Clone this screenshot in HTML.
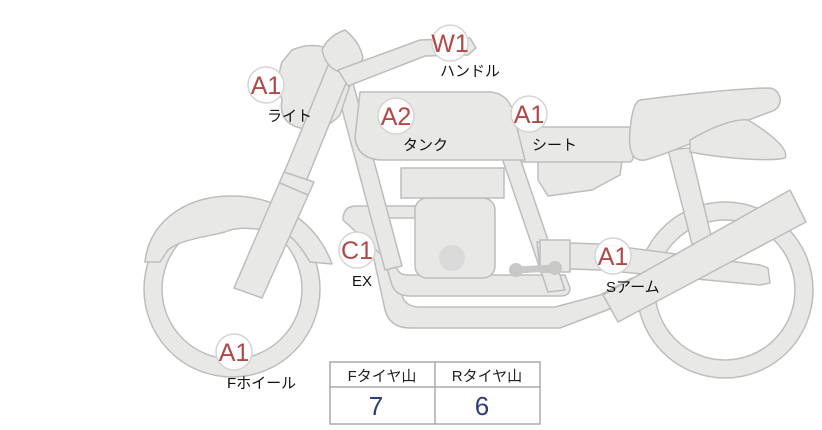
<!DOCTYPE html>
<html><head><meta charset="utf-8"><style>
body{margin:0;background:#fff;width:822px;height:425px;overflow:hidden;font-family:"Liberation Sans","Noto Sans CJK JP",sans-serif}
</style></head><body>
<svg width="822" height="425" viewBox="0 0 822 425" xmlns="http://www.w3.org/2000/svg" font-family="Liberation Sans, Noto Sans CJK JP, sans-serif">
<g fill="#e8e8e6" stroke="#bdbdbd" stroke-width="1.5" stroke-linejoin="round">
<!-- rear wheel -->
<circle cx="725" cy="290" r="88"/>
<circle cx="725" cy="290" r="70" fill="#fff"/>
<polygon points="668,150 690,148 712,240 692,244"/>
<!-- front wheel -->
<circle cx="232" cy="289" r="88"/>
<circle cx="232" cy="289" r="70" fill="#fff"/>
<path d="M145,262 C150,215 195,195 232,196 C280,196 318,225 332,264 L310,262 C300,245 290,232 275,230 C255,230 240,225 225,232 C200,238 180,240 168,250 L160,262 Z"/>
<!-- under seat cover -->
<polygon points="538,160 622,160 620,175 592,190 548,196 538,180"/>
<!-- seat -->
<rect x="518" y="127" width="115" height="35" rx="4"/>
<path d="M640,100 C700,92 750,88 770,88 C782,90 785,108 770,112 C720,130 680,150 645,160 C632,162 628,150 630,130 C632,110 635,102 640,100 Z"/>
<path d="M690,140 C710,128 735,118 748,120 C765,130 790,148 785,158 C770,162 720,158 690,152 Z"/>
<!-- lower exhaust pipe -->
<path d="M365,218 L385,310 Q390,328 410,328 L560,328 L620,305 L640,292 L632,278 L600,295 L555,307 L420,307 Q405,307 402,295 L385,218 Z"/>
<!-- inner exhaust pipe -->
<path d="M343,220 Q343,206 356,206 L420,206 L420,218 L372,218 L392,285 Q396,296 410,296 L560,296 Q570,296 570,288 L565,275 L408,275 Q400,275 398,270 Z" />
<!-- frame downtube -->
<polygon points="332,72 349,68 402,266 385,270"/>
<polygon points="502,158 520,158 565,290 548,292"/>
<!-- swingarm -->
<polygon points="537,242 600,244 760,265 768,268 770,283 760,285 600,270 540,268"/>
<!-- engine -->
<rect x="415" y="198" width="80" height="80" rx="12"/>
<rect x="401" y="168" width="103" height="30"/>
<rect x="540" y="240" width="30" height="32"/>
<polygon points="603,295 790,190 806,222 618,322"/>
<!-- tank -->
<path d="M360,92 L488,92 Q505,92 512,108 L525,160 L383,160 Q358,160 355,138 Z"/>
<!-- headlight -->
<path d="M292,50 Q315,40 335,52 Q352,62 350,85 L340,115 Q325,132 300,128 Q278,122 282,100 Q276,80 282,62 Z"/>
<!-- upper fork -->
<polygon points="331,58 353,66 283,238 261,229"/>
<!-- head cap -->
<path d="M322,50 Q328,36 345,30 Q360,42 363,58 Q356,72 340,72 Q326,68 322,50 Z"/>
<!-- handlebar -->
<polygon points="338,70 420,40 470,38 476,48 468,55 425,56 348,86"/>
<!-- lower fork slider -->
<polygon points="284,172 314,182 262,298 234,288"/>
<line x1="280" y1="183" x2="308" y2="195"/>
</g>
<circle cx="452" cy="258" r="13" fill="#dadada"/>
<g stroke="#c8c8c8" stroke-width="7" stroke-linecap="round"><line x1="516" y1="270" x2="555" y2="268"/></g>
<circle cx="516" cy="270" r="7" fill="#c8c8c8"/><circle cx="555" cy="268" r="7" fill="#c8c8c8"/>
<!-- badges -->
<g fill="#fff" fill-opacity="0.9" stroke="#d4d4d4" stroke-width="1.5">
<circle cx="450" cy="43" r="18"/><circle cx="266" cy="85" r="18"/><circle cx="396" cy="116" r="18"/>
<circle cx="529" cy="114" r="18"/><circle cx="357" cy="250" r="18"/><circle cx="613" cy="256" r="18"/><circle cx="234" cy="352" r="18"/>
</g>
<g fill="#b04848" font-size="25" text-anchor="middle">
<text x="450" y="52">W1</text><text x="266" y="94">A1</text><text x="396" y="125">A2</text>
<text x="529" y="123">A1</text><text x="357" y="259">C1</text><text x="613" y="265">A1</text><text x="234" y="361">A1</text>
</g>
<g fill="#111" font-size="15">
<text x="440" y="76">ハンドル</text><text x="267" y="121">ライト</text><text x="403" y="150">タンク</text>
<text x="532" y="150">シート</text><text x="352" y="286">EX</text><text x="606" y="292">Sアーム</text><text x="227" y="388">Fホイール</text>
</g>
<g fill="none" stroke="#aaa" stroke-width="1.5">
<rect x="330" y="362" width="210" height="62"/><line x1="330" y1="387" x2="540" y2="387"/><line x1="435" y1="362" x2="435" y2="424"/>
</g>
<g font-size="15" fill="#222" text-anchor="middle"><text x="382" y="381">Fタイヤ山</text><text x="487" y="381">Rタイヤ山</text></g>
<g font-size="26" fill="#2c3e7a" text-anchor="middle"><text x="376" y="415">7</text><text x="482" y="415">6</text></g>
</svg>
</body></html>
